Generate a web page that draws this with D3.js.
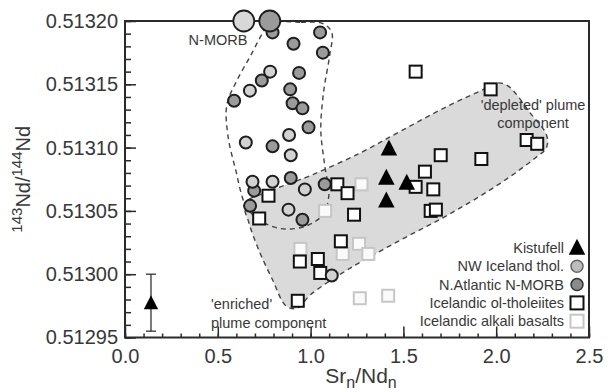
<!DOCTYPE html>
<html><head><meta charset="utf-8">
<script src="https://cdn.jsdelivr.net/npm/d3@7"></script>
<style>
body{margin:0;background:#fff;}
svg text{font-family:"Liberation Sans",Arial,Helvetica,sans-serif;}
</style></head>
<body><svg id="chart" width="616" height="392"></svg>
<script>
// ---------- data ----------
const xTickValues = [0, 0.5, 1.0, 1.5, 2.0, 2.5];
const xTickLabels = ["0.0", "0.5", "1.0", "1.5", "2.0", "2.5"];
const yTickValues = [0.51295, 0.51300, 0.51305, 0.51310, 0.51315, 0.51320];
const yTickLabels = ["0.51295", "0.51300", "0.51305", "0.51310", "0.51315", "0.51320"];

// Kistufell
const kistufell = [[1.422,0.513099],[1.408,0.513076],[1.518,0.513072],[1.408,0.513058]];
// NW Iceland thol. (light grey circles)
const nwIceland = [[0.782,0.513160],[0.673,0.513145],[0.884,0.513110],[0.651,0.513104],[0.893,0.513094],
  [0.687,0.513073],[0.795,0.513073],[0.969,0.513067],[0.881,0.513051],[1.114,0.512999]];
// N.Atlantic N-MORB (dark grey circles)
const nAtlantic = [[0.795,0.513191],[1.051,0.513191],[0.908,0.513182],[1.066,0.513175],[0.737,0.513153],
  [0.938,0.513159],[0.588,0.513137],[0.890,0.513146],[0.903,0.513135],[0.956,0.513131],[0.989,0.513116],
  [0.795,0.513101],[0.893,0.513076],[0.696,0.513066],[1.076,0.513071],[0.674,0.513054],[0.956,0.513043]];
// Icelandic ol-tholeiites (black squares)
const olTholeiites = [[0.773,0.513062],[0.723,0.513044],[1.144,0.513071],[1.199,0.513064],[1.234,0.513047],
  [0.942,0.513010],[1.039,0.513012],[1.052,0.513001],[0.931,0.512979],[1.163,0.513026],[1.566,0.513160],
  [1.970,0.513146],[2.164,0.513106],[2.221,0.513103],[1.920,0.513091],[1.701,0.513094],[1.616,0.513081],
  [1.566,0.513069],[1.661,0.513067],[1.647,0.513050],[1.675,0.513051]];
// Icelandic alkali basalts (light squares)
const alkaliBasalts = [[1.078,0.513050],[1.274,0.513071],[0.945,0.513020],[1.261,0.513024],[1.173,0.513016],
  [1.311,0.513016],[1.265,0.512981],[1.418,0.512983]];
// N-MORB reference values (big circles on top axis)
const nmorbRef = [[0.640,0.51320,"light"],[0.780,0.51320,"dark"]];
// analytical uncertainty example
const errorPoint = [0.140, 0.512977];
const errorRange = [0.512955, 0.513000];

// envelopes
const nmorbField = [[0.775,0.513198],[0.947,0.513199],[1.066,0.513198],[1.114,0.513191],[1.103,0.513173],
  [1.071,0.513145],[1.055,0.513114],[1.076,0.513086],[1.098,0.513062],[1.066,0.513047],[0.974,0.513038],
  [0.840,0.513036],[0.721,0.513043],[0.651,0.513054],[0.597,0.513082],[0.554,0.513110],[0.549,0.513134],
  [0.603,0.513153],[0.678,0.513173],[0.743,0.513191]];
const plumeField = [[0.646,0.513056],[0.786,0.513066],[1.001,0.513078],[1.270,0.513096],[1.485,0.513113],
  [1.755,0.513134],[1.932,0.513146],[1.997,0.513151],[2.061,0.513149],[2.185,0.513127],[2.271,0.513110],
  [2.271,0.513100],[2.212,0.513092],[2.024,0.513072],[1.755,0.513048],[1.485,0.513027],[1.216,0.513005],
  [1.001,0.512984],[0.926,0.512973],[0.867,0.512975],[0.797,0.512995],[0.721,0.513019],[0.667,0.513041]];

const legendLabels = ["Kistufell","NW Iceland thol.","N.Atlantic N-MORB","Icelandic ol-tholeiites","Icelandic alkali basalts"];
const legendKeys = ["tri","light","dark","sq","lsq"];

// ---------- chart ----------
const svg = d3.select("#chart");
const L = 125, R = 589, T = 21, B = 337.5;
const x = d3.scaleLinear().domain([0, 2.5]).range([L, R]);
const y = d3.scaleLinear().domain([0.51295, 0.51320]).range([B, T]);

const ink = "#2a2a2a";
const lightFill = "#d2d2d2", darkFill = "#9b9b9b";
const txt = "#383838";

// fields
const closedLine = d3.line().x(d => x(d[0])).y(d => y(d[1])).curve(d3.curveCatmullRomClosed.alpha(0.5));
svg.append("path").attr("d", closedLine(plumeField))
  .attr("fill", "#dadada").attr("stroke", "#444").attr("stroke-width", 1.4)
  .attr("stroke-dasharray", "5,4");
svg.append("path").attr("d", closedLine(nmorbField))
  .attr("fill", "none").attr("stroke", "#444").attr("stroke-width", 1.4)
  .attr("stroke-dasharray", "5,4");

// axes minor ticks
const yMinor = d3.range(0, 26).map(i => 0.51295 + i * 0.00001);
const xMinor = d3.range(0, 26).map(i => i * 0.1);
svg.append("g").attr("transform", `translate(${L},0)`)
  .call(d3.axisLeft(y).tickValues(yMinor).tickSize(-6).tickFormat(""))
  .call(g => g.select(".domain").remove())
  .call(g => g.selectAll("line").attr("stroke", ink).attr("stroke-width", 1.5));
svg.append("g").attr("transform", `translate(0,${B})`)
  .call(d3.axisBottom(x).tickValues(xMinor).tickSize(-4).tickFormat(""))
  .call(g => g.select(".domain").remove())
  .call(g => g.selectAll("line").attr("stroke", ink).attr("stroke-width", 1.5));

// major ticks with labels
svg.append("g").attr("transform", `translate(${L},0)`)
  .call(d3.axisLeft(y).tickValues(yTickValues).tickSize(-11).tickPadding(7)
        .tickFormat((d, i) => yTickLabels[i]))
  .call(g => g.select(".domain").remove())
  .call(g => g.selectAll("line").attr("stroke", ink).attr("stroke-width", 1.5))
  .call(g => g.selectAll("text").attr("font-size", 20).attr("fill", txt)
        .attr("font-family", "'Liberation Sans',Arial,sans-serif"));
svg.append("g").attr("transform", `translate(0,${B})`)
  .call(d3.axisBottom(x).tickValues(xTickValues).tickSize(-11).tickPadding(11)
        .tickFormat((d, i) => xTickLabels[i]))
  .call(g => g.select(".domain").remove())
  .call(g => g.selectAll("line").attr("stroke", ink).attr("stroke-width", 1.5))
  .call(g => g.selectAll("text").attr("font-size", 20).attr("fill", txt)
        .attr("font-family", "'Liberation Sans',Arial,sans-serif"));

// frame
svg.append("rect").attr("x", L).attr("y", T).attr("width", R - L).attr("height", B - T)
  .attr("fill", "none").attr("stroke", ink).attr("stroke-width", 2);

// axis titles
const xt = svg.append("text").attr("x", 361).attr("y", 383)
  .attr("text-anchor", "middle").attr("font-size", 21).attr("fill", txt);
xt.append("tspan").text("Sr");
xt.append("tspan").text("n").attr("font-size", 16).attr("dy", 5);
xt.append("tspan").text("/Nd").attr("dy", -5);
xt.append("tspan").text("n").attr("font-size", 16).attr("dy", 5);

const yt = svg.append("text").attr("transform", `translate(30,${(T + B) / 2}) rotate(-90)`)
  .attr("text-anchor", "middle").attr("font-size", 20).attr("fill", txt);
yt.append("tspan").text("143").attr("font-size", 15).attr("dy", -8);
yt.append("tspan").text("Nd/").attr("dy", 8);
yt.append("tspan").text("144").attr("font-size", 15).attr("dy", -8);
yt.append("tspan").text("Nd").attr("dy", 8);

// field labels
const lab = svg.append("g").attr("font-size", 14.5).attr("fill", txt);
lab.append("text").attr("x", 218).attr("y", 45).attr("text-anchor", "middle").text("N-MORB");
lab.append("text").attr("x", 533).attr("y", 110).attr("text-anchor", "middle").text("'depleted' plume");
lab.append("text").attr("x", 533).attr("y", 128).attr("text-anchor", "middle").text("component");
lab.append("text").attr("x", 211).attr("y", 309).text("'enriched'");
lab.append("text").attr("x", 211).attr("y", 328).text("plume component");

// symbol helpers
const triPath = (s) => `M0,${-s * 0.62}L${s * 0.55},${s * 0.45}L${-s * 0.55},${s * 0.45}Z`;
const sqSize = 12;

// alkali basalts
svg.append("g").selectAll("rect").data(alkaliBasalts).join("rect")
  .attr("x", d => x(d[0]) - sqSize / 2).attr("y", d => y(d[1]) - sqSize / 2)
  .attr("width", sqSize).attr("height", sqSize)
  .attr("fill", "#fafafa").attr("stroke", "#c6c6c6").attr("stroke-width", 2);
// ol-tholeiites
svg.append("g").selectAll("rect").data(olTholeiites).join("rect")
  .attr("x", d => x(d[0]) - sqSize / 2).attr("y", d => y(d[1]) - sqSize / 2)
  .attr("width", sqSize).attr("height", sqSize)
  .attr("fill", "#fff").attr("stroke", "#111").attr("stroke-width", 2);
// circles
svg.append("g").selectAll("circle").data(nAtlantic).join("circle")
  .attr("cx", d => x(d[0])).attr("cy", d => y(d[1])).attr("r", 6)
  .attr("fill", darkFill).attr("stroke", "#1e1e1e").attr("stroke-width", 2);
svg.append("g").selectAll("circle").data(nwIceland).join("circle")
  .attr("cx", d => x(d[0])).attr("cy", d => y(d[1])).attr("r", 6)
  .attr("fill", lightFill).attr("stroke", "#1e1e1e").attr("stroke-width", 2);
// N-MORB reference
svg.append("g").selectAll("circle").data(nmorbRef).join("circle")
  .attr("cx", d => x(d[0])).attr("cy", d => y(d[1])).attr("r", 10.5)
  .attr("fill", d => d[2] === "light" ? "#d8d8d8" : darkFill)
  .attr("stroke", "#1e1e1e").attr("stroke-width", 1.8);
// Kistufell
svg.append("g").selectAll("path").data(kistufell).join("path")
  .attr("transform", d => `translate(${x(d[0])},${y(d[1])})`)
  .attr("d", triPath(15)).attr("fill", "#000");

// error bar example
svg.append("line").attr("x1", x(errorPoint[0])).attr("x2", x(errorPoint[0]))
  .attr("y1", y(errorRange[0])).attr("y2", y(errorRange[1])).attr("stroke", "#333").attr("stroke-width", 1.3);
errorRange.forEach(v => svg.append("line")
  .attr("x1", x(errorPoint[0]) - 5).attr("x2", x(errorPoint[0]) + 5)
  .attr("y1", y(v)).attr("y2", y(v)).attr("stroke", "#333").attr("stroke-width", 1.3));
svg.append("path").attr("transform", `translate(${x(errorPoint[0])},${y(errorPoint[1])})`)
  .attr("d", triPath(13)).attr("fill", "#000");

// legend
const lg = svg.append("g").attr("font-size", 14.5).attr("fill", txt);
const ly0 = 248, ldy = 18.3, lsx = 577;
legendLabels.forEach((t, i) => {
  const yy = ly0 + i * ldy;
  lg.append("text").attr("x", 564).attr("y", yy + 5).attr("text-anchor", "end").text(t);
  const k = legendKeys[i];
  if (k === "tri") lg.append("path").attr("transform", `translate(${lsx},${yy})`).attr("d", triPath(15)).attr("fill", "#000");
  else if (k === "light" || k === "dark") lg.append("circle").attr("cx", lsx).attr("cy", yy).attr("r", 6)
    .attr("fill", k === "light" ? "#bdbdbd" : "#8a8a8a").attr("stroke", k === "light" ? "#666" : "#333").attr("stroke-width", 1.5);
  else lg.append("rect").attr("x", lsx - 6.5).attr("y", yy - 6.5).attr("width", 13).attr("height", 13)
    .attr("fill", "#fff").attr("stroke", k === "sq" ? "#111" : "#c6c6c6").attr("stroke-width", 2);
});
</script></body></html>
